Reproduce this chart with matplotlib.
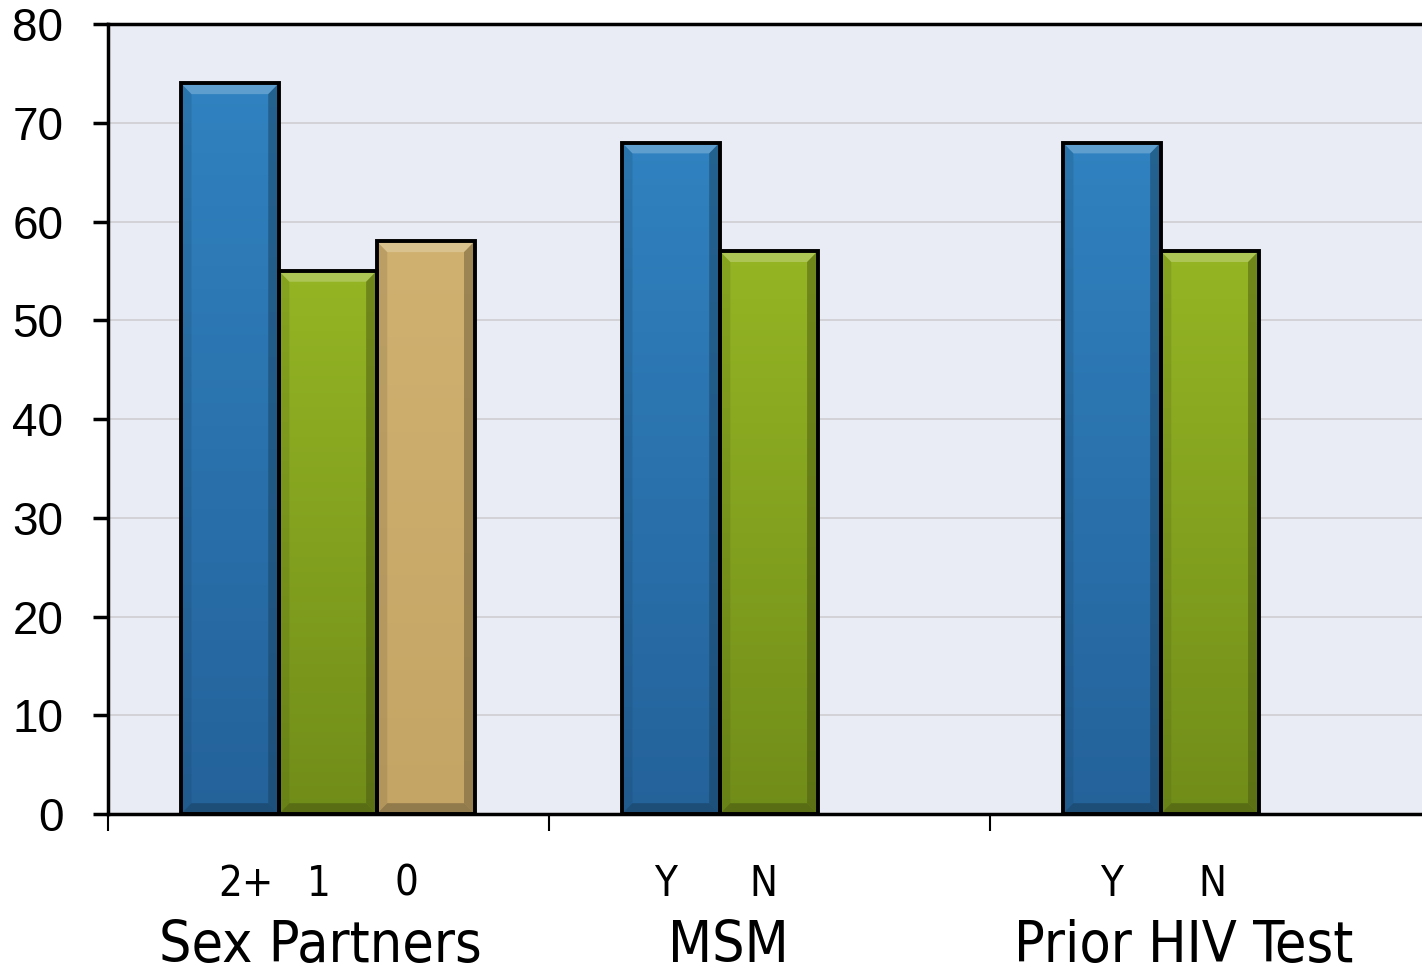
import matplotlib.pyplot as plt
import numpy as np
from matplotlib.colors import LinearSegmentedColormap, to_rgb
from matplotlib.patches import Polygon

# data
groups = ['Sex Partners', 'MSM', 'Prior HIV Test']
sub_labels = [['2+', '1', '0'], ['Y', 'N'], ['Y', 'N']]
values = [[74, 55, 58], [68, 57], [68, 57]]

# top / bottom colours of each series (blue, green, tan)
top_cols = ['#3082c0', '#95b524', '#d0b170']
bot_cols = ['#24629a', '#718d19', '#c5a565']

# small horizontal nudges of the labels (category units)
sub_nudge = [[0.036, -0.02, -0.043], [-0.012, -0.012], [0.0, 0.005]]
group_nudge = [-0.016, 0.02, 0.052]

bar_w = 0.222
start = 0.1655

fig = plt.figure(figsize=(14.22, 9.77), dpi=100)
ax = fig.add_axes([0.0759, 0.1668, 0.9241, 0.8086])
ax.set_facecolor('#e9ecf4')
ax.set_xlim(0, 2.98)
ax.set_ylim(0, 80)

yt = np.arange(0, 81, 10)
ax.set_yticks(yt)
ax.set_yticklabels([str(v) for v in yt], fontsize=33, fontfamily='Liberation Sans')
ax.yaxis.grid(True, color='#cfcfd2', linewidth=1.2)
ax.set_axisbelow(True)

bev_x = 0.024
bev_y = 1.1

centers = []
labels = []
for gi, vals in enumerate(values):
    for si, v in enumerate(vals):
        x0 = gi + start + si * bar_w
        x1 = x0 + bar_w
        cmap = LinearSegmentedColormap.from_list('g', [bot_cols[si], top_cols[si]])
        grad = np.linspace(0, 1, 256).reshape(-1, 1)
        ax.imshow(grad, cmap=cmap, origin='lower', aspect='auto',
                  extent=(x0, x1, 0, v), zorder=2, interpolation='bicubic')
        # bevel: light top, dark right and bottom, slightly dark left
        base = np.array(to_rgb(top_cols[si]))
        light = base + (1 - base) * 0.22
        dark = base * 0.45
        ax.add_patch(Polygon([(x0, v), (x1, v), (x1 - bev_x, v - bev_y), (x0 + bev_x, v - bev_y)],
                             closed=True, facecolor=light, edgecolor='none', zorder=3))
        ax.add_patch(Polygon([(x1, v), (x1, 0), (x1 - bev_x, bev_y), (x1 - bev_x, v - bev_y)],
                             closed=True, facecolor=dark, alpha=0.45, edgecolor='none', zorder=3))
        ax.add_patch(Polygon([(x0, 0), (x1, 0), (x1 - bev_x, bev_y), (x0 + bev_x, bev_y)],
                             closed=True, facecolor=dark, alpha=0.5, edgecolor='none', zorder=3))
        ax.add_patch(Polygon([(x0, v), (x0, 0), (x0 + bev_x, bev_y), (x0 + bev_x, v - bev_y)],
                             closed=True, facecolor=dark, alpha=0.18, edgecolor='none', zorder=3))
        ax.bar(x0, v, width=bar_w, align='edge', facecolor='none',
               edgecolor='black', linewidth=2.8, zorder=4)
        centers.append(x0 + bar_w / 2 + sub_nudge[gi][si])
        labels.append(sub_labels[gi][si])

    gc = gi + start + len(vals) * bar_w / 2 + group_nudge[gi]
    ax.text(gc, -15.0, groups[gi], ha='center', va='baseline', fontsize=41,
            family='DejaVu Sans', fontstretch='condensed', clip_on=False)

ax.set_xticks([0, 1, 2])
ax.set_xticklabels([])
ax.set_xticks(centers, minor=True)
ax.set_xticklabels(labels, minor=True, fontsize=30, family='DejaVu Sans',
                   fontstretch='condensed')
ax.tick_params(axis='x', which='major', direction='out', length=12, width=1.5)
ax.tick_params(axis='x', which='minor', length=0, pad=35)
ax.tick_params(axis='y', direction='out', length=11, width=2.5, pad=21)

ax.spines['left'].set_linewidth(2.5)
ax.spines['bottom'].set_linewidth(2.5)
ax.spines['top'].set_linewidth(2.5)
ax.spines['right'].set_visible(False)

plt.savefig('out.png', dpi=100)
